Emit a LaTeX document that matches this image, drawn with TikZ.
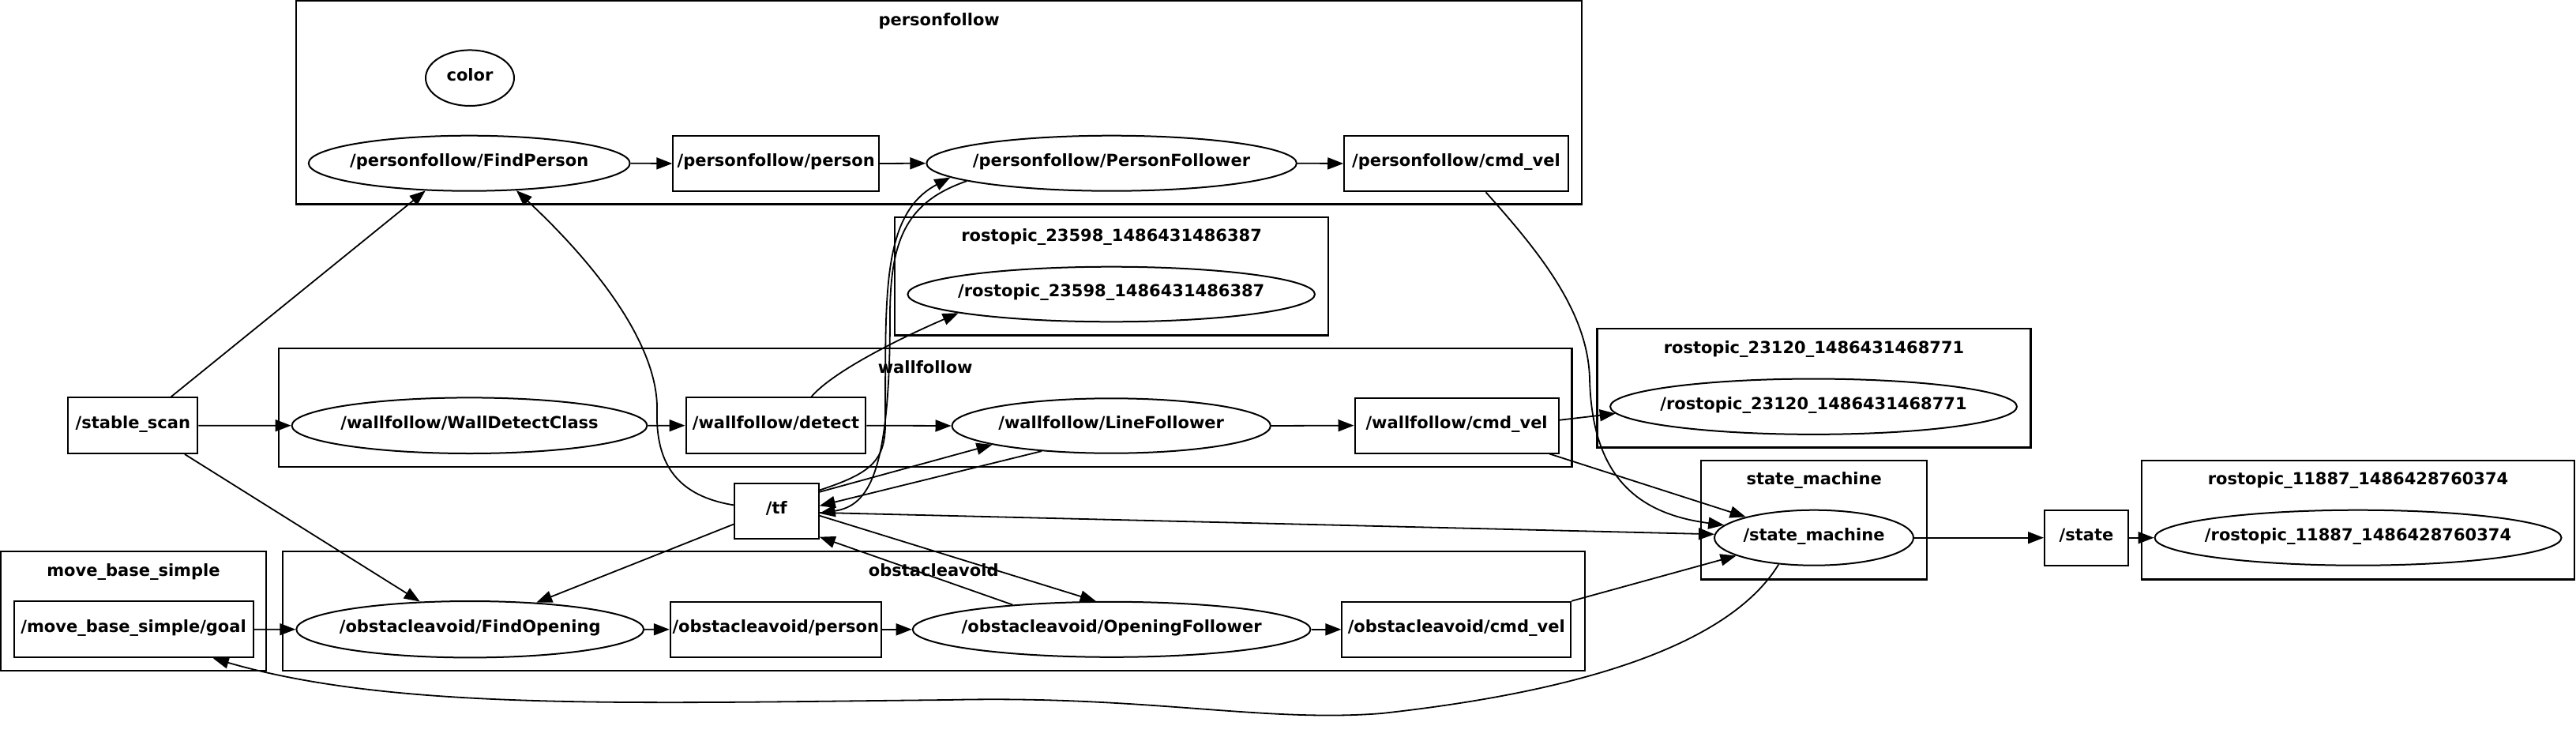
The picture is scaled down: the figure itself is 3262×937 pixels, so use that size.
\documentclass[tikz,border=0pt]{standalone}
\usepackage{fontspec}
\setmainfont{DejaVu Sans}
\usetikzlibrary{shapes.geometric,arrows.meta}
\begin{document}
\begin{tikzpicture}[x=1pt,y=-1pt,
  txt/.style={font=\fontsize{21}{25}\selectfont\bfseries},
  ell/.style={ellipse, draw, line width=2pt, inner sep=0pt, txt, text height=1.5ex, text depth=.25ex},
  box/.style={rectangle, draw, line width=2pt, inner sep=0pt, txt, text height=1.5ex, text depth=.25ex},
  clu/.style={rectangle, draw, line width=2.2pt, inner sep=0pt},
  clabel/.style={anchor=base, inner sep=0pt, txt},
  conn/.style={line width=1.8pt, -{Triangle[length=20pt,width=15pt]}}
]
\useasboundingbox (0,0) rectangle (3262,937);
% clusters
\node[clu, minimum width=1627.8, minimum height=257.3] (cpf) at (1189.2,129.9) {};
\node[clabel] (lpf) at (1189.2,32.7) {personfollow};
\node[clu, minimum width=548.6, minimum height=149.4] (c23598) at (1407.6,349.7) {};
\node[clabel] (l23598) at (1407.6,305.5) {rostopic\_23598\_1486431486387};
\node[clu, minimum width=1637.6, minimum height=150] (cwf) at (1171.7,515.7) {};
\node[clabel] (lwf) at (1171.7,472) {wallfollow};
\node[clu, minimum width=548.9, minimum height=150.3] (c23120) at (2296.95,491.35) {};
\node[clabel] (l23120) at (2296.95,447) {rostopic\_23120\_1486431468771};
\node[clu, minimum width=335.5, minimum height=150.7] (cmbs) at (168.95,773.65) {};
\node[clabel] (lmbs) at (168.95,729.5) {move\_base\_simple};
\node[clu, minimum width=1648.9, minimum height=150.7] (coa) at (1182.25,773.65) {};
\node[clabel] (loa) at (1182.25,729.5) {obstacleavoid};
\node[clu, minimum width=286.3, minimum height=150.6] (csm) at (2297.15,658.1) {};
\node[clabel] (lsm) at (2297.15,613.8) {state\_machine};
\node[clu, minimum width=548, minimum height=150.6] (c11887) at (2986,658.1) {};
\node[clabel] (l11887) at (2986,613.8) {rostopic\_11887\_1486428760374};
% ellipse nodes
\node[ell, minimum width=112, minimum height=70.6] (color) at (595,98.7) {\makebox[0pt]{color}};
\node[ell, minimum width=406.8, minimum height=70] (FP) at (594.2,206.7) {\makebox[0pt]{/personfollow/FindPerson}};
\node[ell, minimum width=468.6, minimum height=70] (PF) at (1407.6,206.7) {\makebox[0pt]{/personfollow/PersonFollower}};
\node[ell, minimum width=515.6, minimum height=69.6] (r23598) at (1407.2,372.5) {\makebox[0pt]{/rostopic\_23598\_1486431486387}};
\node[ell, minimum width=449.8, minimum height=70.6] (WDC) at (594.5,538.7) {\makebox[0pt]{/wallfollow/WallDetectClass}};
\node[ell, minimum width=403.4, minimum height=69.4] (LF) at (1407.2,539) {\makebox[0pt]{/wallfollow/LineFollower}};
\node[ell, minimum width=515, minimum height=70.3] (r23120) at (2296.5,514.7) {\makebox[0pt]{/rostopic\_23120\_1486431468771}};
\node[ell, minimum width=252, minimum height=70] (sm) at (2297,680.7) {\makebox[0pt]{/state\_machine}};
\node[ell, minimum width=515, minimum height=70] (r11887) at (2986,680.7) {\makebox[0pt]{/rostopic\_11887\_1486428760374}};
\node[ell, minimum width=439.8, minimum height=71.4] (FO) at (595.2,796.7) {\makebox[0pt]{/obstacleavoid/FindOpening}};
\node[ell, minimum width=503.8, minimum height=70] (OF) at (1407.6,796.8) {\makebox[0pt]{/obstacleavoid/OpeningFollower}};
% box nodes
\node[box, minimum width=260.7, minimum height=70.6] (pfperson) at (982.65,207) {\makebox[0pt]{/personfollow/person}};
\node[box, minimum width=283.4, minimum height=70.6] (pfcmd) at (1843.9,207) {\makebox[0pt]{/personfollow/cmd\_vel}};
\node[box, minimum width=164.1, minimum height=70.7] (scan) at (168.35,538.65) {\makebox[0pt]{/stable\_scan}};
\node[box, minimum width=227.9, minimum height=70.7] (detect) at (982.45,538.65) {\makebox[0pt]{/wallfollow/detect}};
\node[box, minimum width=258.2, minimum height=70] (wfcmd) at (1844.6,538.6) {\makebox[0pt]{/wallfollow/cmd\_vel}};
\node[box, minimum width=106.7, minimum height=70.6] (tf) at (983.35,647) {\makebox[0pt]{/tf}};
\node[box, minimum width=303.1, minimum height=71.3] (goal) at (169.05,796.65) {\makebox[0pt]{/move\_base\_simple/goal}};
\node[box, minimum width=266.9, minimum height=70] (oaperson) at (982.25,796.8) {\makebox[0pt]{/obstacleavoid/person}};
\node[box, minimum width=289.7, minimum height=70] (oacmd) at (1844.25,796.8) {\makebox[0pt]{/obstacleavoid/cmd\_vel}};
\node[box, minimum width=106, minimum height=70] (state) at (2642,680.7) {\makebox[0pt]{/state}};
% straight edges
\draw[conn] (FP.east) -- (pfperson.west);
\draw[conn] (pfperson.east) -- (PF.west);
\draw[conn] (PF.east) -- (pfcmd.west);
\draw[conn] (scan.east) -- (WDC.west);
\draw[conn] (WDC.east) -- (detect.west);
\draw[conn] (detect.east) -- (LF.west);
\draw[conn] (LF.east) -- (wfcmd.west);
\draw[conn] (goal.east) -- (FO.west);
\draw[conn] (FO.east) -- (oaperson.west);
\draw[conn] (oaperson.east) -- (OF.west);
\draw[conn] (OF.east) -- (oacmd.west);
\draw[conn] (sm.east) -- (state.west);
\draw[conn] (state.east) -- (r11887.west);
\draw[conn] (wfcmd.3) -- (r23120.182);
\draw[conn] (wfcmd.-17) -- (sm.163);
\draw[conn] (oacmd.north east) -- (sm.193.5);
\draw[conn] (tf.-2) -- (sm.178);
\draw[conn] (tf.24) -- (LF.189);
\draw[conn] (LF.200.6) -- (tf.7.5);
\draw[conn] (tf.-6.5) -- (OF.119.7);
\draw[conn] (OF.166.6) -- (tf.-31.7);
\draw[conn] (tf.197) -- (FO.22.7);
\draw[conn] (scan.37) -- (FP.212);
\draw[conn] (scan.-29) -- (FO.151.5);
% curved edges
\draw[conn] (tf.172) .. controls (860,628) and (830,590) .. (832,520) .. controls (834,440) and (760,340) .. (FP.330);
\draw[conn] (tf.26) .. controls (1100,600) and (1120,585) .. (1121,540) .. controls (1122,380) and (1114,272) .. (PF.185);
\draw[conn] (PF.187) .. controls (1150,255) and (1127,300) .. (1127,400) .. controls (1127,600) and (1100,640) .. (tf.-3);
\draw[conn] (detect.39) .. controls (1055,470) and (1140,428) .. (r23598.187);
\draw[conn] (pfcmd.-44) .. controls (1950,320) and (2011,395) .. (2013,480) .. controls (2016,600) and (2070,650) .. (sm.172);
\draw[conn] (sm.217) .. controls (2200,800) and (2050,870) .. (1750,903) .. controls (1600,915) and (1450,880) .. (1200,886) .. controls (800,890) and (500,900) .. (goal.-20);
\end{tikzpicture}
\end{document}
